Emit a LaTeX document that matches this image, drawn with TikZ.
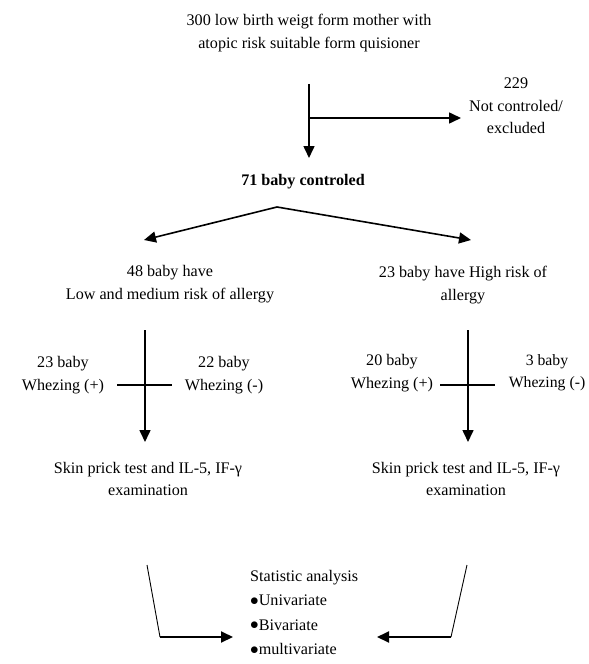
\documentclass[tikz,border=0pt]{standalone}
\usepackage{fontspec}
\setmainfont{Liberation Serif}
\usetikzlibrary{arrows.meta}
\newcommand{\mybul}{\raisebox{0.5bp}{$\bullet$}}
\begin{document}
\begin{tikzpicture}[x=1bp,y=-1bp,
  txt/.style={align=center,font=\fontsize{16.2}{22.5}\selectfont,inner sep=0pt},
  arr/.style={line width=1.6bp,-{Triangle[length=12bp,width=11bp]}},
  plain/.style={line width=1.6bp},
  thin/.style={line width=0.9bp}]
\useasboundingbox (0,0) rectangle (589,664);
% texts
\node[txt] (top) at (309,33) {300 low birth weigt form mother with\\atopic risk suitable form quisioner};
\node[txt] (ex) at (516,106) {229\\Not controled/\\excluded};
\node[txt,font=\fontsize{16.2}{22.5}\selectfont\bfseries] (c71) at (303,182) {71 baby controled};
\node[txt] (low) at (170,284) {48 baby have\\Low and medium risk of allergy};
\node[txt] (high) at (463,285) {23 baby have High risk of\\allergy};
\node[txt] (lp) at (63,375) {23 baby\\Whezing (+)};
\node[txt] (lm) at (224,375) {22 baby\\Whezing (-)};
\node[txt] (hp) at (392,373) {20 baby\\Whezing (+)};
\node[txt,font=\fontsize{15.8}{22.5}\selectfont] (hm) at (547,373) {3 baby\\Whezing (-)};
\node[txt] (skl) at (148,479) {Skin prick test and IL-5, IF-γ\\examination};
\node[txt] (skr) at (466,479) {Skin prick test and IL-5, IF-γ\\examination};
\node[txt,align=left,anchor=north west,font=\fontsize{16.2}{24.5}\selectfont] (stat) at (250,570) {Statistic analysis\\\mybul Univariate\\\mybul Bivariate\\\mybul multivariate};
% coordinates
\coordinate (a1) at (309,84);
\coordinate (a1b) at (309,118);
\coordinate (a1e) at (309,158);
\coordinate (a2e) at (461,118);
\coordinate (ap) at (277,207);
\coordinate (al) at (144,240);
\coordinate (ar) at (471,240);
\coordinate (l1) at (145,330);
\coordinate (l2) at (145,442);
\coordinate (lc1) at (117,385);
\coordinate (lc2) at (172,385);
\coordinate (r1) at (468,330);
\coordinate (r2) at (468,442);
\coordinate (rc1) at (440,385);
\coordinate (rc2) at (495,385);
\coordinate (bl1) at (147,565);
\coordinate (bl2) at (160,637);
\coordinate (bl3) at (233,637);
\coordinate (br1) at (467,565);
\coordinate (br2) at (451,637);
\coordinate (br3) at (377,637);
% connectors
\draw[arr] (a1) -- (a1e);
\draw[arr] (a1b) -- (a2e);
\draw[arr] (ap) -- (al);
\draw[arr] (ap) -- (ar);
\draw[arr] (l1) -- (l2);
\draw[plain] (lc1) -- (lc2);
\draw[arr] (r1) -- (r2);
\draw[plain] (rc1) -- (rc2);
\draw[thin] (bl1) -- (bl2);
\draw[arr,line width=2bp] (bl2) -- (bl3);
\draw[thin] (br1) -- (br2);
\draw[arr,line width=2bp] (br2) -- (br3);
\end{tikzpicture}
\end{document}
